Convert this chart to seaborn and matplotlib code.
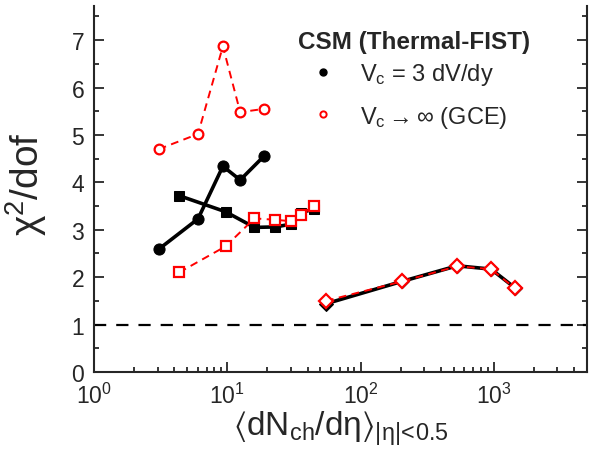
import matplotlib
matplotlib.use("Agg")
import matplotlib.pyplot as plt
import seaborn as sns
from matplotlib.lines import Line2D
from matplotlib.ticker import LogLocator, MultipleLocator

# ---- data ----
# small systems, circles (pp-like)
x_circ = [3.06, 6.03, 9.27, 12.5, 18.8]
y_circ_ce = [2.59, 3.23, 4.34, 4.05, 4.55]
y_circ_gce = [4.70, 5.02, 6.87, 5.48, 5.55]
# squares (p-Pb-like)
x_sq = [4.35, 9.71, 16.0, 23.0, 30.3, 36.0, 44.4]
y_sq_ce = [3.72, 3.38, 3.05, 3.06, 3.12, 3.36, 3.44]
y_sq_gce = [2.10, 2.65, 3.24, 3.21, 3.18, 3.31, 3.51]
# diamonds (Pb-Pb-like)
x_dia = [55.0, 204.0, 531.0, 953.0, 1433.0]
y_dia_ce = [1.44, 1.91, 2.24, 2.17, 1.78]
y_dia_gce = [1.50, 1.91, 2.23, 2.17, 1.77]

legend_title = "CSM (Thermal-FIST)"
label_ce = r"V$_c$ = 3 dV/dy"
label_gce = r"V$_c$$\rightarrow\infty$ (GCE)"

sns.set_style("ticks")
plt.rcParams["font.family"] = ["Liberation Sans", "DejaVu Sans"]
plt.rcParams["mathtext.fontset"] = "custom"
plt.rcParams["mathtext.rm"] = "Liberation Sans"
plt.rcParams["mathtext.it"] = "Liberation Sans"
plt.rcParams["mathtext.bf"] = "Liberation Sans:bold"
plt.rcParams["mathtext.default"] = "regular"

fig = plt.figure(figsize=(5.95, 4.6), dpi=100)
ax = fig.add_axes([94 / 595, 87 / 460, (587 - 94) / 595, (373 - 7) / 460])

ax.axhline(1.0, color="black", lw=1.6, dashes=(5.5, 4.5), zorder=1)

black_kw = dict(color="black", lw=2.6, linestyle="-", markeredgecolor="black",
                markerfacecolor="black", sort=False, estimator=None)
sns.lineplot(x=x_circ, y=y_circ_ce, marker="o", markersize=8, ax=ax, **black_kw)
sns.lineplot(x=x_sq, y=y_sq_ce, marker="s", markersize=7.5, ax=ax, **black_kw)
sns.lineplot(x=x_dia, y=y_dia_ce, marker="D", markersize=7, ax=ax, **black_kw)

red_kw = dict(color="red", lw=1.4, markeredgecolor="red", markerfacecolor="white",
              markeredgewidth=1.6, sort=False, estimator=None)
for x, y, m, s in [(x_circ, y_circ_gce, "o", 7), (x_sq, y_sq_gce, "s", 6.5),
                   (x_dia, y_dia_gce, "D", 7)]:
    sns.lineplot(x=x, y=y, marker=m, markersize=s, ax=ax, dashes=False, **red_kw)
    ax.lines[-1].set_dashes((4, 2.8))

ax.set_xscale("log")
ax.set_xlim(1, 5000)
ax.set_ylim(0, 7.72)
ax.yaxis.set_major_locator(MultipleLocator(1))
ax.yaxis.set_minor_locator(MultipleLocator(0.5))
ax.xaxis.set_major_locator(LogLocator(base=10, numticks=10))
ax.xaxis.set_minor_locator(LogLocator(base=10, subs=range(2, 10), numticks=20))

for s in ["left", "right", "bottom"]:
    ax.spines[s].set_linewidth(1.5)
    ax.spines[s].set_visible(True)
ax.spines["top"].set_visible(False)

ax.tick_params(which="both", direction="in", left=True, right=True, top=False,
               bottom=True, width=1.3, labelsize=16.5)
ax.tick_params(axis="y", pad=7)
ax.tick_params(axis="x", pad=8)
ax.tick_params(which="major", length=7)
ax.tick_params(which="minor", length=3.5)

ax.set_xlabel(r"$\langle$dN$_{ch}$/d$\eta\rangle_{|\eta|\!<\!0.5}$", fontsize=24, labelpad=0)
ax.set_ylabel(r"$\chi^2$/dof", fontsize=28)
ax.yaxis.set_label_coords(-0.092, 0.515)

handles = [
    Line2D([], [], marker="o", color="black", lw=0, markersize=5),
    Line2D([], [], marker="o", color="red", lw=0, markersize=4.5,
           markerfacecolor="white", markeredgewidth=1.4),
]
leg = ax.legend(handles, [label_ce, label_gce], title=legend_title,
                loc="upper left", bbox_to_anchor=(0.405, 0.948), frameon=False,
                fontsize=17, title_fontproperties={"weight": "bold", "size": 17.5},
                alignment="left", handlelength=2.1, handletextpad=0.5,
                labelspacing=0.7, borderaxespad=0, borderpad=0.2)
leg._legend_box.sep = 6

fig.savefig("out.png", dpi=100)
